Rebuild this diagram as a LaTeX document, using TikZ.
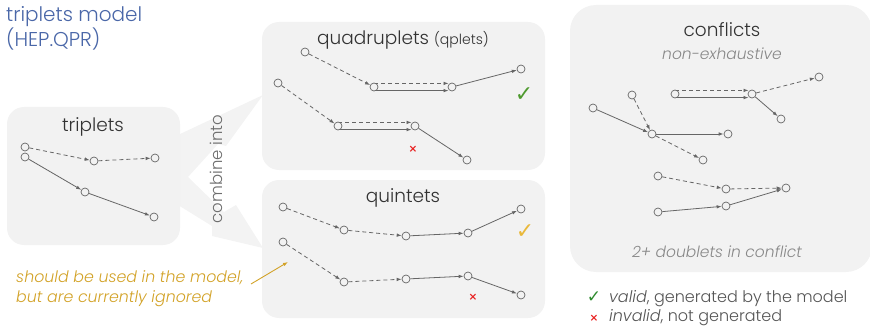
\documentclass[tikz,border=0pt]{standalone}
\usepackage{fontspec}
\setmainfont{Poppins}[UprightFont={* Light}, ItalicFont={* Light Italic}]
\newfontfamily\symfont{DejaVu Sans}
\usetikzlibrary{arrows.meta}
\definecolor{boxbg}{HTML}{F2F2F2}
\definecolor{edgec}{HTML}{666666}
\definecolor{titleblue}{HTML}{4A67A8}
\definecolor{textdark}{HTML}{333333}
\definecolor{textgray}{HTML}{888888}
\definecolor{legendgray}{HTML}{555555}
\definecolor{noteyellow}{HTML}{D2A227}
\definecolor{okgreen}{HTML}{4E9A2E}
\definecolor{okyellow}{HTML}{E9B83A}
\definecolor{darkgreen}{HTML}{2E8B2E}
\definecolor{badred}{HTML}{E81E1E}
\pgfdeclarelayer{panels}
\pgfdeclarelayer{edges}
\pgfsetlayers{panels,edges,main}
\begin{document}
\begin{tikzpicture}[x=1pt,y=-1pt,
  panel/.style={fill=boxbg, rounded corners=17pt},
  hit/.style={circle, draw=edgec, fill=boxbg, line width=0.7pt, inner sep=0pt, minimum size=8pt},
  seg/.style={draw=edgec, line width=0.8pt, -{Latex[length=5pt,width=3.6pt]}},
  dseg/.style={seg, dash pattern=on 4pt off 3pt},
  paneltitle/.style={font=\fontsize{18.5}{22}\selectfont, text=textdark, inner sep=0pt},
  subnote/.style={font=\fontsize{15.5}{18}\selectfont\itshape, text=textgray, inner sep=0pt},
  tick/.style={font=\symfont\fontsize{22}{22}\selectfont, inner sep=0pt},
  cross/.style={font=\symfont\bfseries\fontsize{10.5}{10.5}\selectfont, text=badred, inner sep=0pt},
  legend/.style={font=\fontsize{16}{18}\selectfont, text=legendgray, inner sep=0pt, anchor=base west}
]
\useasboundingbox (0,0) rectangle (870,326);

\begin{pgfonlayer}{panels}
% wedge-shaped "combine into" arrows
\fill[boxbg!90!white] (178,135) -- (263,95) -- (226,146) -- (218,144) -- (188,177)
  -- (224,212) -- (236,205) -- (263,248) -- (212,236) -- (212,226) -- (178,205) -- cycle;
% panels
\fill[panel] (7,107) rectangle (180,245);
\fill[panel] (262,22) rectangle (545,170);
\fill[panel] (262,180) rectangle (545,318);
\fill[panel, rounded corners=26pt] (570,5) rectangle (872,272);
\end{pgfonlayer}
\node[rotate=90, font=\fontsize{16.5}{18}\selectfont, text=textgray!80!black, inner sep=0pt] (combine) at (216,169) {combine into};

% heading
\node[anchor=north west, align=left, inner sep=0pt, text=titleblue, font=\fontsize{20}{23}\selectfont] (heading) at (6,6) {triplets model\\(HEP.QPR)};

% ---- triplets ----
\node[paneltitle] (ttitle) at (93,127) {triplets};
\node[hit] (a1) at (25,147) {};
\node[hit] (b1) at (94,161) {};
\node[hit] (c1) at (155,158) {};
\node[hit] (a2) at (25,157) {};
\node[hit] (b2) at (85,192) {};
\node[hit] (c2) at (154,217) {};
\begin{pgfonlayer}{edges}
\draw[dseg] (a1) -- (b1);
\draw[dseg] (b1) -- (c1);
\draw[seg] (a2) -- (b2);
\draw[seg] (b2) -- (c2);
\end{pgfonlayer}

% ---- quadruplets ----
\node[paneltitle] (qtitle) at (403,40) {quadruplets {\fontsize{14}{16}\selectfont(qplets)}};
\node[hit] (p1) at (305,52) {};
\node[hit] (p2) at (374,87) {};
\node[hit] (p3) at (452,87) {};
\node[hit] (p4) at (521,69) {};
\node[hit] (q1) at (278,83) {};
\node[hit] (q2) at (338,126) {};
\node[hit] (q3) at (415,126) {};
\node[hit] (q4) at (467,160) {};
\begin{pgfonlayer}{edges}
\draw[dseg] (p1) -- (p2);
\draw[dseg] ([yshift=3.6pt]p2.center) -- ([yshift=3.6pt,xshift=-3.5pt]p3.center);
\draw[seg] ([yshift=-3.6pt]p2.center) -- ([yshift=-3.6pt,xshift=-3.5pt]p3.center);
\draw[seg] (p3) -- (p4);
\draw[dseg] (q1) -- (q2);
\draw[dseg] ([yshift=3.6pt]q2.center) -- ([yshift=3.6pt,xshift=-3.5pt]q3.center);
\draw[seg] ([yshift=-3.6pt]q2.center) -- ([yshift=-3.6pt,xshift=-3.5pt]q3.center);
\draw[seg] (q3) -- (q4);
\end{pgfonlayer}
\node[tick, text=okgreen] (qok) at (524,95) {✓};
\node[cross] (qbad) at (413,149) {×};

% ---- quintets ----
\node[paneltitle] (ftitle) at (403,198) {quintets};
\node[hit] (r1) at (283,207) {};
\node[hit] (r2) at (344,230) {};
\node[hit] (r3) at (406,236) {};
\node[hit] (r4) at (468,233) {};
\node[hit] (r5) at (521,209) {};
\node[hit] (s1) at (283,242) {};
\node[hit] (s2) at (344,282) {};
\node[hit] (s3) at (406,279) {};
\node[hit] (s4) at (468,276) {};
\node[hit] (s5) at (521,295) {};
\begin{pgfonlayer}{edges}
\draw[dseg] (r1) -- (r2);
\draw[dseg] (r2) -- (r3);
\draw[seg] (r3) -- (r4);
\draw[seg] (r4) -- (r5);
\draw[dseg] (s1) -- (s2);
\draw[dseg] (s2) -- (s3);
\draw[seg] (s3) -- (s4);
\draw[seg] (s4) -- (s5);
\end{pgfonlayer}
\node[tick, text=okyellow] (fok) at (525,232) {✓};
\node[cross] (fbad) at (473,297) {×};

% ---- note on ignored candidates ----
\node[anchor=west, align=left, inner sep=0pt, text=noteyellow, font=\fontsize{15.8}{20}\selectfont\itshape] (note) at (16,289) {should be used in the model,\\but are currently ignored};
\coordinate (notestart) at (251,284);
\coordinate (noteend) at (288,262);
\draw[noteyellow, line width=0.9pt, -{Latex[length=5pt,width=3.6pt]}] (notestart) -- (noteend);

% ---- conflicts ----
\node[paneltitle] (ctitle) at (722,30) {conflicts};
\node[subnote] (csub) at (722,54) {non-exhaustive};
\node[hit] (k1) at (632,95) {};
\node[hit] (k2) at (593,108) {};
\node[hit] (k3) at (652,134) {};
\node[hit] (k4) at (728,134) {};
\node[hit] (k5) at (703,160) {};
\node[hit] (m1) at (675,94) {};
\node[hit] (m2) at (752,94) {};
\node[hit] (m3) at (819,77) {};
\node[hit] (m4) at (781,119) {};
\node[hit] (n1) at (658,176) {};
\node[hit] (n2) at (726,189) {};
\node[hit] (n3) at (786,188) {};
\node[hit] (n4) at (658,212) {};
\node[hit] (n5) at (726,206) {};
\begin{pgfonlayer}{edges}
\draw[seg] (k2) -- (k3);
\draw[dseg] (k1) -- (k3);
\draw[seg] (k3) -- (k4);
\draw[dseg] (k3) -- (k5);
\draw[dseg] ([yshift=3.6pt]m1.center) -- ([yshift=3.6pt,xshift=-3.5pt]m2.center);
\draw[seg] ([yshift=-3.6pt]m1.center) -- ([yshift=-3.6pt,xshift=-3.5pt]m2.center);
\draw[dseg] (m2) -- (m3);
\draw[seg] (m2) -- (m4);
\draw[dseg] (n1) -- (n2);
\draw[dseg] (n2) -- (n3);
\draw[seg] (n4) -- (n5);
\draw[seg] (n5) -- (n3);
\end{pgfonlayer}
\node[subnote] (cfoot) at (717,252) {2+ doublets in conflict};

% ---- legend ----
\node[tick, text=darkgreen, font=\symfont\fontsize{17}{17}\selectfont] (lok) at (594,297) {✓};
\node[cross] (lbad) at (594,318) {×};
\node[legend] (lvalid) at (609,302) {\textit{valid}, generated by the model};
\node[legend] (linvalid) at (609,321) {\textit{invalid}, not generated};
\end{tikzpicture}
\end{document}
